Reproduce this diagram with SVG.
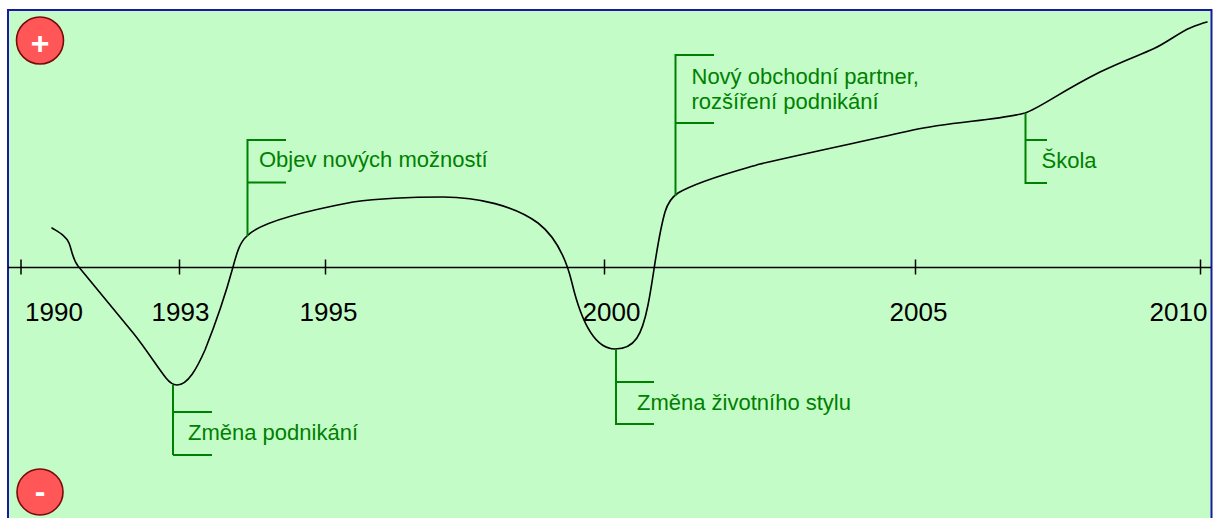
<svg xmlns="http://www.w3.org/2000/svg" width="1217" height="518" viewBox="0 0 1217 518">
  <style>
    .year { font-family: "Liberation Sans", Arial, sans-serif; font-size: 26px; fill: #000; }
    .event { font-family: "Liberation Sans", Arial, sans-serif; font-size: 22px; fill: #008000; }
    .bracket { fill: none; stroke: #008000; stroke-width: 2; }
    .axis { fill: none; stroke: #000; stroke-width: 1.5; }
    .life { fill: none; stroke: #000; stroke-width: 1.6; stroke-linejoin: round; stroke-linecap: round; }
    .badge { fill: #ff5757; stroke: #7a0a0a; stroke-width: 1.6; }
    .sign { font-family: "Liberation Sans", Arial, sans-serif; font-size: 32px; font-weight: bold; fill: #fff; text-anchor: middle; }
  </style>

  <!-- chart area -->
  <rect x="8" y="10" width="1203.5" height="515" fill="#c4fcc8" stroke="#1a1aa0" stroke-width="2"/>

  <!-- plus / minus markers -->
  <g id="plus">
    <circle class="badge" cx="40" cy="40.5" r="23.5"/>
    <text class="sign" x="40" y="53.5">+</text>
  </g>
  <g id="minus">
    <circle class="badge" cx="40" cy="492" r="23"/>
    <text class="sign" x="40" y="502">-</text>
  </g>

  <!-- time axis -->
  <g id="axis">
    <line class="axis" x1="8" y1="267.5" x2="1211" y2="267.5"/>
    <line class="axis" x1="21" y1="259.5" x2="21" y2="274.5"/>
    <line class="axis" x1="179.5" y1="259.5" x2="179.5" y2="274.5"/>
    <line class="axis" x1="325.5" y1="259.5" x2="325.5" y2="274.5"/>
    <line class="axis" x1="604.5" y1="259.5" x2="604.5" y2="274.5"/>
    <line class="axis" x1="915.5" y1="259.5" x2="915.5" y2="274.5"/>
    <line class="axis" x1="1200.5" y1="259.5" x2="1200.5" y2="274.5"/>
    <text class="year" x="25" y="320.5">1990</text>
    <text class="year" x="151.5" y="320.5">1993</text>
    <text class="year" x="299.5" y="320.5">1995</text>
    <text class="year" x="582.5" y="320.5">2000</text>
    <text class="year" x="889.5" y="320.5">2005</text>
    <text class="year" x="1149.5" y="320.5">2010</text>
  </g>

  <!-- life curve -->
  <g id="connectors">
    <path class="life" d="M52,228 C60,233 66,236 69,243 C72,250 72,258 78,266 L134,334 C146,349 158,368 166,378 C170,383 173,385 177,385 C188,385 197,368 205,350 C213,330 224,300 233,267 C237,252 240,242 247,236 C258,224 300,212 353,202 C390,197 420,197 443,197 C478,197 515,206 538,223 C556,237 566,258 572,283 C578,308 590,349 615,349 C635,349 642,335 648,305 C654,275 657,240 665,212 C668,202 672,197 678,193 C700,180 740,170 760,164 C820,150 870,140 913,130 C950,122 1000,120 1025,113 C1040,108 1060,92 1100,72 C1125,60 1140,55 1153,49 C1165,44 1180,32 1190,28 C1197,25 1203,23 1207,22"/>
  </g>

  <!-- events -->
  <g id="event-1993">
    <path class="bracket" d="M173,385 V455 M173,412 H212 M173,455 H212"/>
    <text class="event" x="188" y="440">Změna podnikání</text>
  </g>
  <g id="event-1994">
    <path class="bracket" d="M247.5,236 V140 H286 M247.5,182.5 H286"/>
    <text class="event" x="259" y="167">Objev nových možností</text>
  </g>
  <g id="event-2000">
    <path class="bracket" d="M616,349 V424 H654 M616,382 H654"/>
    <text class="event" x="637" y="409.5">Změna životního stylu</text>
  </g>
  <g id="event-2001">
    <path class="bracket" d="M675.5,196 V55 H714 M675.5,123 H714"/>
    <text class="event" x="691.5" y="83.5">Nový obchodní partner,</text>
    <text class="event" x="691.5" y="108.5">rozšíření podnikání</text>
  </g>
  <g id="event-2007">
    <path class="bracket" d="M1025.5,113 V183 H1047 M1025.5,140 H1047"/>
    <text class="event" x="1041.5" y="167.5">Škola</text>
  </g>
</svg>
